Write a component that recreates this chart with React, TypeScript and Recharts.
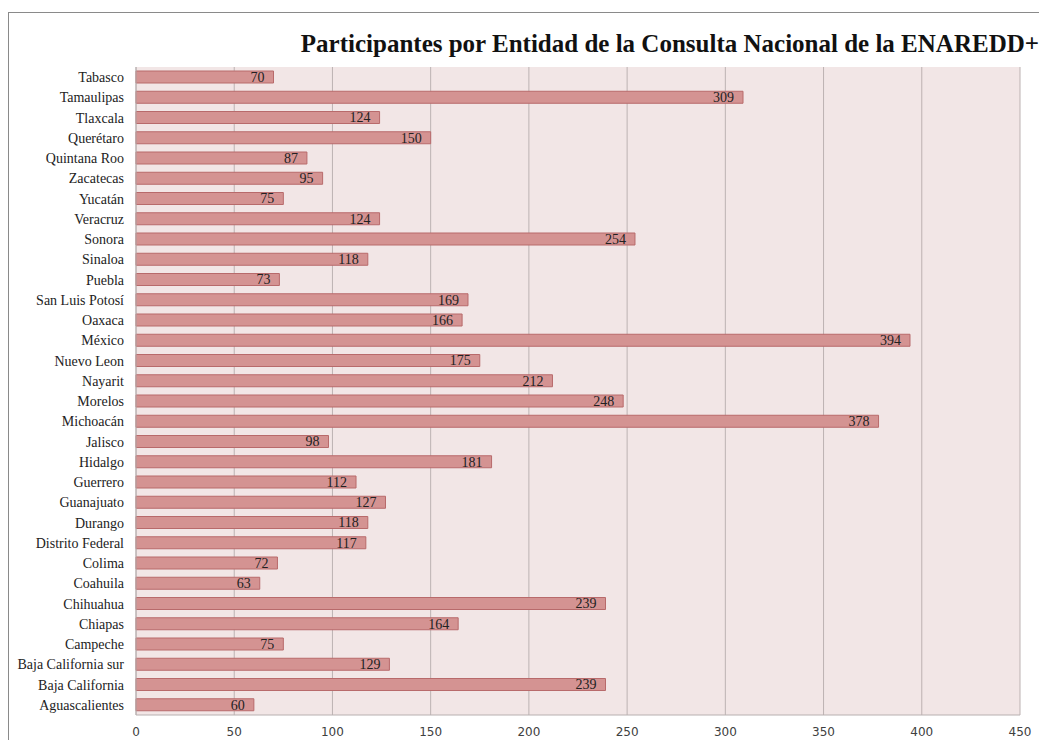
import { BarChart, Bar, XAxis, YAxis, CartesianGrid, LabelList } from 'recharts'

const estados = [
  'Tabasco', 'Tamaulipas', 'Tlaxcala', 'Querétaro', 'Quintana Roo', 'Zacatecas', 'Yucatán', 'Veracruz',
  'Sonora', 'Sinaloa', 'Puebla', 'San Luis Potosí', 'Oaxaca', 'México', 'Nuevo Leon', 'Nayarit',
  'Morelos', 'Michoacán', 'Jalisco', 'Hidalgo', 'Guerrero', 'Guanajuato', 'Durango', 'Distrito Federal',
  'Colima', 'Coahuila', 'Chihuahua', 'Chiapas', 'Campeche', 'Baja California sur', 'Baja California', 'Aguascalientes',
]
const participantes = [
  70, 309, 124, 150, 87, 95, 75, 124,
  254, 118, 73, 169, 166, 394, 175, 212,
  248, 378, 98, 181, 112, 127, 118, 117,
  72, 63, 239, 164, 75, 129, 239, 60,
]
const ticks = [0, 50, 100, 150, 200, 250, 300, 350, 400, 450]

const data = estados.map((name, i) => ({ name, value: participantes[i] }))

const serif = '"Liberation Serif", "DejaVu Serif", serif'

export default function App() {
  return (
    <div style={{ position: 'relative', width: 1039, height: 740, overflow: 'hidden' }}>
      <style>{'body{margin:0}'}</style>
      <div style={{ position: 'absolute', left: 8, top: 12, width: 1031, height: 728, borderTop: '1px solid #8a8a8a', borderLeft: '1px solid #8a8a8a', boxSizing: 'border-box' }}>
        <div style={{ position: 'absolute', right: 0, top: 16, whiteSpace: 'nowrap', fontFamily: serif, fontWeight: 700, fontSize: 25, lineHeight: '30px', color: '#111' }}>
          Participantes por Entidad de la Consulta Nacional de la ENAREDD+
        </div>
        <BarChart
          width={1030}
          height={727}
          data={data}
          layout="vertical"
          margin={{ top: 54, right: 19, bottom: 5, left: 0 }}
        >
          <CartesianGrid horizontal={false} fill="#f2e6e6" stroke="#bcb2b2" fillOpacity={1} />
          <XAxis
            type="number"
            domain={[0, 450]}
            ticks={ticks}
            height={20}
            tickLine={false}
            axisLine={{ stroke: '#b8b0b0' }}
            tick={{ fill: '#404040', fontSize: 12, fontFamily: '"DejaVu Sans", sans-serif' }}
            tickMargin={6}
          />
          <YAxis
            type="category"
            dataKey="name"
            width={127}
            tickLine={false}
            axisLine={{ stroke: '#b8b0b0' }}
            interval={0}
            tickMargin={6}
            tick={{ fill: '#222', fontSize: 14, fontFamily: serif }}
          />
          <Bar dataKey="value" fill="#d49392" stroke="#b86a6b" strokeWidth={1} barSize={12} isAnimationActive={false}>
            <LabelList dataKey="value" position="insideRight" offset={9} fill="#222" fontSize={14} fontFamily={serif} />
          </Bar>
        </BarChart>
      </div>
    </div>
  )
}
